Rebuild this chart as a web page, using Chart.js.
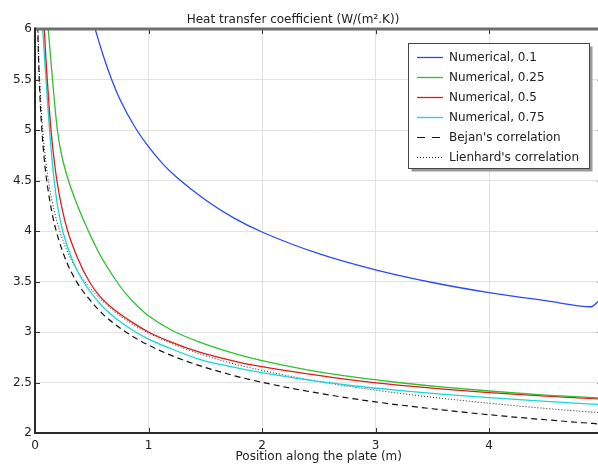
<!DOCTYPE html>
<html>
<head>
<meta charset="utf-8">
<title>Heat transfer coefficient</title>
<script src="https://cdn.jsdelivr.net/npm/chart.js@4.4.1/dist/chart.umd.min.js"></script>
<style>
  html, body { margin: 0; padding: 0; background: #fff; overflow: hidden; }
  #wrap { position: relative; width: 620px; height: 466px; }
</style>
</head>
<body>
<div id="wrap"><canvas id="htcChart" width="620" height="466"></canvas></div>
<script>
/*****
 * Data
 *****/

// Chart title and axis labels
const chartTitle = 'Heat transfer coefficient (W/(m².K))';
const xTitle = 'Position along the plate (m)';

// Axis ranges / tick steps
const xMin = 0, xMax = 5, xStep = 1;
const yMin = 2, yMax = 6, yStep = 0.5;

// Series names (legend order)
const seriesNames = ['Numerical, 0.1', 'Numerical, 0.25', 'Numerical, 0.5', 'Numerical, 0.75',
                     "Bejan's correlation", "Lienhard's correlation"];

// Numerical, 0.1
const blueX = [0.53, 0.6, 0.675, 0.75, 0.88, 1.0, 1.13, 1.25, 1.5, 1.75, 2.0, 2.5, 3.0, 3.5, 4.0, 4.5, 4.9, 4.96, 5.0];
const blueY = [6.0, 5.74, 5.5, 5.30, 5.03, 4.835, 4.66, 4.53, 4.31, 4.13, 3.99, 3.775, 3.615, 3.49, 3.39, 3.31, 3.25, 3.30, 3.34];

// Numerical, 0.25
const greenX = [0.117, 0.135, 0.154, 0.174, 0.197, 0.235, 0.295, 0.375, 0.47, 0.58, 0.72, 0.8, 0.9, 1.0, 1.2, 1.45, 1.8, 2.0, 2.4, 2.8, 3.2, 3.6, 4.0, 4.5, 5.0];
const greenY = [6.0, 5.75, 5.5, 5.25, 5.0, 4.75, 4.5, 4.25, 4.0, 3.75, 3.5, 3.38, 3.26, 3.16, 3.02, 2.90, 2.773, 2.716, 2.625, 2.555, 2.50, 2.454, 2.416, 2.376, 2.346];

// Numerical, 0.5
const redX = [0.082, 0.095, 0.108, 0.124, 0.141, 0.165, 0.19, 0.235, 0.288, 0.38, 0.478, 0.573, 0.7, 0.85, 1.0, 1.2, 1.45, 1.8, 2.0, 2.4, 2.8, 3.2, 3.6, 4.0, 4.5, 5.0];
const redY = [6.0, 5.73, 5.5, 5.24, 5.0, 4.74, 4.52, 4.24, 4.0, 3.72, 3.5, 3.35, 3.22, 3.10, 3.0, 2.90, 2.80, 2.70, 2.657, 2.585, 2.523, 2.475, 2.434, 2.40, 2.365, 2.336];

// Numerical, 0.75
const cyanX = [0.068, 0.085, 0.1, 0.12, 0.14, 0.163, 0.2, 0.249, 0.33, 0.432, 0.573, 0.7, 0.85, 1.0, 1.2, 1.45, 1.8, 2.0, 2.4, 2.8, 3.2, 3.6, 4.0, 4.5, 5.0];
const cyanY = [6.0, 5.7, 5.45, 5.12, 4.84, 4.56, 4.24, 3.98, 3.71, 3.49, 3.28, 3.145, 3.025, 2.93, 2.834, 2.73, 2.64, 2.597, 2.525, 2.468, 2.422, 2.383, 2.35, 2.313, 2.28];

// Bejan's correlation
const bejanX = [0.02, 0.03, 0.045, 0.065, 0.09, 0.12, 0.16, 0.21, 0.28, 0.36, 0.46, 0.6, 0.8, 1.0, 1.3, 1.7, 2.0, 2.5, 3.0, 3.5, 4.0, 4.5, 5.0];
const bejanY = [6.23, 5.75, 5.30, 4.93, 4.62, 4.37, 4.125, 3.91, 3.69, 3.51, 3.35, 3.175, 3.0, 2.87, 2.725, 2.584, 2.502, 2.394, 2.308, 2.24, 2.181, 2.131, 2.087];

// Lienhard's correlation
const lienX = [0.026, 0.035, 0.05, 0.07, 0.095, 0.125, 0.165, 0.215, 0.28, 0.36, 0.46, 0.6, 0.8, 1.0, 1.3, 1.7, 2.0, 2.5, 3.0, 3.5, 4.0, 4.5, 5.0];
const lienY = [6.0, 5.67, 5.30, 4.97, 4.69, 4.45, 4.22, 4.01, 3.81, 3.63, 3.47, 3.30, 3.12, 2.99, 2.844, 2.70, 2.62, 2.51, 2.424, 2.354, 2.295, 2.243, 2.199];

// Helper to turn two arrays into {x, y} points
function toPoints(xs, ys) {
  return xs.map((x, i) => ({ x: x, y: ys[i] }));
}

Chart.defaults.font.family = "'DejaVu Sans', sans-serif";
Chart.defaults.font.size = 12;
Chart.defaults.color = '#222';

// Plot title drawn above the plot area
const plotTitle = {
  id: 'plotTitle',
  afterDraw(chart) {
    const ctx = chart.ctx;
    ctx.save();
    ctx.font = "12px 'DejaVu Sans', sans-serif";
    ctx.fillStyle = '#222';
    ctx.textAlign = 'center';
    ctx.textBaseline = 'alphabetic';
    ctx.fillText(chartTitle, 293, 22.5);
    ctx.restore();
  }
};

// Frame round the plot with inward tick marks
const frameTicks = {
  id: 'frameTicks',
  afterDatasetsDraw(chart) {
    const { ctx, chartArea: a, scales: { x, y } } = chart;
    ctx.save();
    ctx.strokeStyle = '#333';
    ctx.lineWidth = 1;
    ctx.beginPath();
    x.ticks.forEach((t) => {
      const px = Math.round(x.getPixelForValue(t.value)) + 0.5;
      ctx.moveTo(px, a.bottom); ctx.lineTo(px, a.bottom - 5);
      ctx.moveTo(px, a.top); ctx.lineTo(px, a.top + 5);
    });
    y.ticks.forEach((t) => {
      const py = Math.round(y.getPixelForValue(t.value)) + 0.5;
      ctx.moveTo(a.left, py); ctx.lineTo(a.left + 5, py);
      ctx.moveTo(a.right, py); ctx.lineTo(a.right - 5, py);
    });
    ctx.stroke();

    // top edge (lighter, thicker)
    ctx.strokeStyle = '#6e6e6e';
    ctx.lineWidth = 3;
    ctx.beginPath();
    ctx.moveTo(a.left, a.top); ctx.lineTo(a.right, a.top);
    ctx.stroke();

    // left, bottom and right edges
    ctx.strokeStyle = '#2a2a2a';
    ctx.lineWidth = 2;
    ctx.beginPath();
    ctx.moveTo(a.left, a.top - 1.5); ctx.lineTo(a.left, a.bottom);
    ctx.lineTo(a.right, a.bottom); ctx.lineTo(a.right, a.top);
    ctx.stroke();
    ctx.restore();
  }
};

// Boxed legend with a drop shadow in the upper right of the plot
const boxLegend = {
  id: 'boxLegend',
  afterDraw(chart) {
    const ctx = chart.ctx;
    const left = 408.5, top = 43.5, w = 181, h = 125;
    ctx.save();
    ctx.fillStyle = '#9a9a9a'; // shadow
    ctx.fillRect(left + 3, top + 3, w, h);
    ctx.fillStyle = '#fff';
    ctx.fillRect(left, top, w, h);
    ctx.strokeStyle = '#444';
    ctx.lineWidth = 1;
    ctx.strokeRect(left, top, w, h);

    ctx.font = "12px 'DejaVu Sans', sans-serif";
    ctx.textAlign = 'left';
    ctx.textBaseline = 'middle';
    chart.data.datasets.forEach((ds, i) => {
      const ry = Math.round(56.7 + i * 20.1) + 0.5;
      // long dashes look longer in the legend sample
      const dash = ds.borderDash && ds.borderDash[0] > 2 ? [8, 7] : (ds.borderDash || []);
      ctx.strokeStyle = ds.borderColor;
      ctx.lineWidth = ds.borderWidth;
      ctx.setLineDash(dash);
      ctx.beginPath();
      ctx.moveTo(417, ry); ctx.lineTo(443, ry);
      ctx.stroke();
      ctx.setLineDash([]);
      ctx.fillStyle = '#222';
      ctx.fillText(ds.label, 449, ry);
    });
    ctx.restore();
  }
};

const ctx = document.getElementById('htcChart').getContext('2d');
window.htcChart = new Chart(ctx, {
  type: 'line',
  data: {
    datasets: [
      { label: seriesNames[0], data: toPoints(blueX, blueY), borderColor: '#2b48ff', borderWidth: 1.3 },
      { label: seriesNames[1], data: toPoints(greenX, greenY), borderColor: '#2fbf2f', borderWidth: 1.3 },
      { label: seriesNames[2], data: toPoints(redX, redY), borderColor: '#e31a1a', borderWidth: 1.3 },
      { label: seriesNames[3], data: toPoints(cyanX, cyanY), borderColor: '#14d8d8', borderWidth: 1.3 },
      { label: seriesNames[4], data: toPoints(bejanX, bejanY), borderColor: '#111', borderWidth: 1.2, borderDash: [6, 4] },
      { label: seriesNames[5], data: toPoints(lienX, lienY), borderColor: '#222', borderWidth: 1, borderDash: [1, 2] }
    ]
  },
  options: {
    responsive: false,
    animation: false,
    cubicInterpolationMode: 'monotone',
    elements: { point: { radius: 0 }, line: { fill: false } },
    layout: { padding: { top: 29, right: 17.5, bottom: 0, left: 0 } },
    scales: {
      x: {
        type: 'linear',
        min: xMin, max: xMax,
        ticks: { stepSize: xStep, padding: 6, callback: (v) => (v === xMax ? '' : v) },
        grid: { color: '#e2e2e2', drawTicks: false },
        border: { display: false },
        title: { display: true, text: xTitle, padding: { top: 0, bottom: 2 } },
        afterFit: (scale) => { scale.height = 33; }
      },
      y: {
        type: 'linear',
        min: yMin, max: yMax,
        ticks: { stepSize: yStep, padding: 3, callback: (v) => v },
        grid: { color: '#e2e2e2', drawTicks: false },
        border: { display: false },
        afterFit: (scale) => { scale.width = 35; }
      }
    },
    plugins: {
      legend: { display: false },
      title: { display: false },
      tooltip: { enabled: false }
    }
  },
  plugins: [plotTitle, frameTicks, boxLegend]
});
</script>
</body>
</html>
